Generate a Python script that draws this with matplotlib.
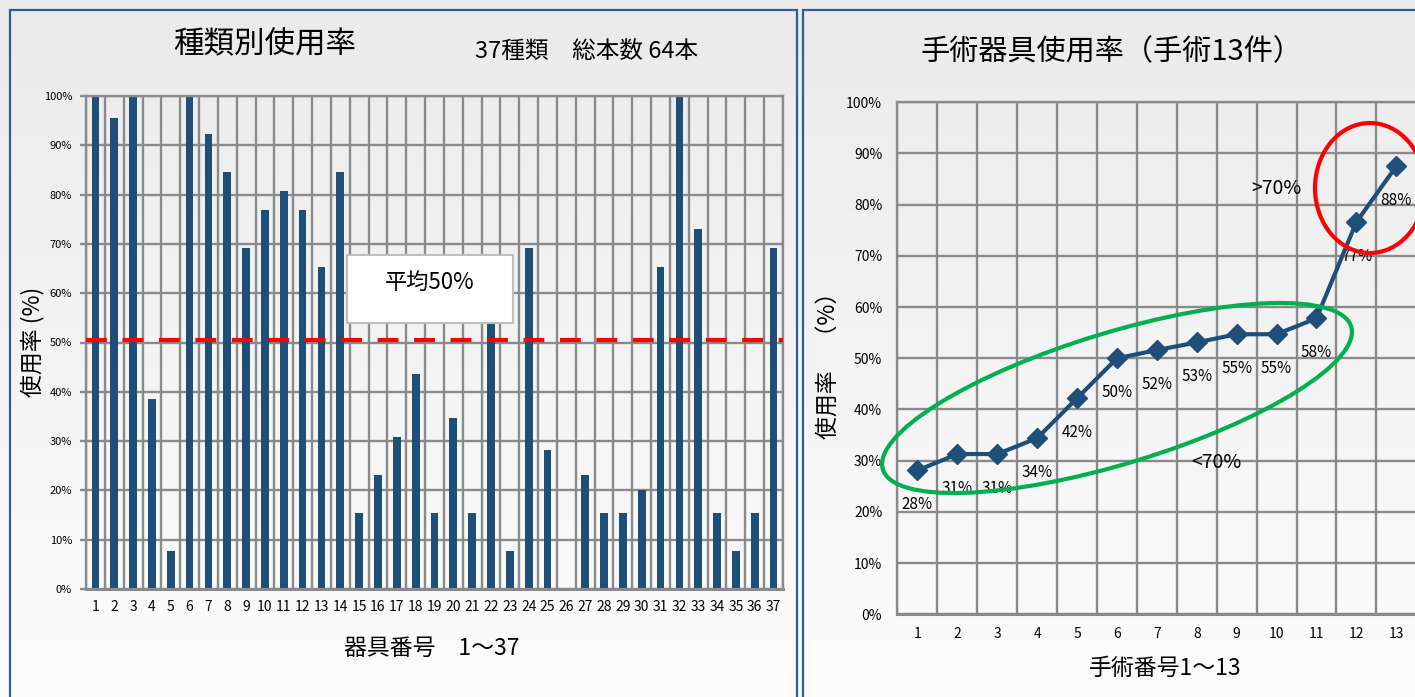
import matplotlib

matplotlib.use("Agg")
import matplotlib.pyplot as plt
import numpy as np
from matplotlib.patches import Ellipse, Rectangle
from matplotlib.transforms import IdentityTransform

plt.rcParams["font.family"] = ["Noto Sans CJK JP", "DejaVu Sans"]

W, H = 1415, 697

# left chart: usage rate per instrument type (37 types)
tool_numbers = list(range(1, 38))
tool_usage = [100, 95.5, 100, 38.5, 7.7, 100, 92.3, 84.6, 69.2, 76.9,
              80.8, 76.9, 65.4, 84.6, 15.4, 23.1, 30.8, 43.6, 15.4, 34.6,
              15.4, 61.5, 7.7, 69.2, 28.2, 0, 23.1, 15.4, 15.4, 20.0,
              65.4, 100, 73.0, 15.4, 7.7, 15.4, 69.2]
average_usage = 50.5

# right chart: usage rate per surgery (13 surgeries)
surgery_numbers = list(range(1, 14))
surgery_usage = [28.1, 31.3, 31.3, 34.4, 42.2, 50.0, 51.6, 53.1, 54.7, 54.7,
                 57.8, 76.6, 87.5]

BAR_COLOR = "#1f4e79"
GRID_COLOR = "#8a8a8a"
BORDER_COLOR = "#2e5f92"


def px(x, y):
    return x / W, 1 - y / H


def axes_rect(x0, y0, x1, y1):
    return [x0 / W, 1 - y1 / H, (x1 - x0) / W, (y1 - y0) / H]


def style_grid(ax):
    ax.set_facecolor("none")
    ax.grid(True, which="minor", axis="x", color=GRID_COLOR, lw=1.7)
    ax.grid(True, which="major", axis="y", color=GRID_COLOR, lw=1.7)
    ax.set_axisbelow(True)
    for side in ax.spines:
        ax.spines[side].set_color(GRID_COLOR)
        ax.spines[side].set_linewidth(1.7)
    ax.spines["bottom"].set_linewidth(2.2)


fig = plt.figure(figsize=(W / 100, H / 100), dpi=100)

# soft vertical gradient background
bg = fig.add_axes([0, 0, 1, 1], zorder=-10)
grad = np.linspace(0.92, 0.99, 256).reshape(-1, 1)
bg.imshow(np.dstack([grad, grad, grad]), aspect="auto", extent=[0, 1, 0, 1],
          origin="upper")
bg.set_axis_off()

# panel frames
fig.add_artist(Rectangle((9.5, -5), 787, H - 10 + 5, fill=False,
                         ec=BORDER_COLOR, lw=1.6, transform=IdentityTransform()))
fig.add_artist(Rectangle((803, -5), 700, H - 10 + 5, fill=False,
                         ec=BORDER_COLOR, lw=1.6, transform=IdentityTransform()))

# ---- left chart ----
ax1 = fig.add_axes(axes_rect(86, 96, 783, 589))
style_grid(ax1)
xpos = np.arange(len(tool_numbers))
ax1.bar(xpos, tool_usage, width=0.41, color=BAR_COLOR, zorder=2)
ax1.axhline(average_usage, color="#ff0000", lw=3, dashes=(5, 3.75), zorder=3)
ax1.set_xlim(-0.5, len(tool_numbers) - 0.5)
ax1.set_ylim(0, 100)
ax1.set_xticks(xpos)
ax1.set_xticklabels([str(n) for n in tool_numbers], fontsize=10)
ax1.set_xticks(np.arange(-0.5, len(tool_numbers)), minor=True)
ax1.tick_params(axis="x", which="both", length=0, pad=8)
ax1.set_yticks(np.arange(0, 101, 10))
ax1.set_yticklabels([f"{v}%" for v in range(0, 101, 10)], fontsize=8)
ax1.tick_params(axis="y", length=4, color=GRID_COLOR, width=1.7, pad=6)

ax1.add_patch(Rectangle((13.35, 54.0), 8.8, 13.7, fc="white", ec="#bfbfbf",
                        lw=1.5, zorder=5))
ax1.text(17.76, 62.1, "平均50%", ha="center", va="center", fontsize=16, zorder=6)

fig.text(*px(265, 45), "種類別使用率", ha="center", va="center", fontsize=22)
fig.text(*px(587, 52), "37種類　総本数 64本", ha="center", va="center",
         fontsize=17)
fig.text(*px(33, 342), "使用率 (%)", ha="center", va="center", rotation=90,
         fontsize=16.5)
fig.text(*px(432, 648), "器具番号　1〜37", ha="center", va="center",
         fontsize=16.5)

# ---- right chart ----
ax2 = fig.add_axes(axes_rect(897.5, 102.3, 1416.2, 614.3))
style_grid(ax2)
ax2.plot(surgery_numbers, surgery_usage, color=BAR_COLOR, lw=3, marker="D",
         ms=10, mec=BAR_COLOR, zorder=4, clip_on=False)
for n, v in zip(surgery_numbers, surgery_usage):
    ax2.annotate(f"{v:.0f}%", (n, v), xytext=(0, -34), textcoords="offset pixels",
                 ha="center", va="center", fontsize=11, zorder=3)
ax2.set_xlim(0.5, len(surgery_numbers) + 0.5)
ax2.set_ylim(0, 100)
ax2.set_xticks(surgery_numbers)
ax2.set_xticks(np.arange(0.5, len(surgery_numbers) + 1), minor=True)
ax2.tick_params(axis="x", which="both", length=0, pad=9, labelsize=10)
ax2.set_yticks(np.arange(0, 101, 10))
ax2.set_yticklabels([f"{v}%" for v in range(0, 101, 10)], fontsize=10)
ax2.tick_params(axis="y", length=0, pad=11)

ax2.text(8.49, 29.7, "<70%", ha="center", va="center", fontsize=14)
ax2.text(10.0, 83.1, ">70%", ha="center", va="center", fontsize=14)

ax2.add_patch(Ellipse((1117, H - 398), 489.6, 131.2, angle=16.95, fill=False,
                      ec="#00b050", lw=3, transform=IdentityTransform(),
                      clip_on=False, zorder=5))
ax2.add_patch(Ellipse((1370, H - 188), 110, 130, fill=False, ec="#ff0000",
                      lw=3, transform=IdentityTransform(), clip_on=False,
                      zorder=5))

fig.text(*px(1112, 52), "手術器具使用率（手術13件）", ha="center", va="center",
         fontsize=21)
fig.text(*px(828, 360), "使用率　（%）", ha="center", va="center", rotation=90,
         fontsize=16.5)
fig.text(*px(1165, 668), "手術番号1〜13", ha="center", va="center",
         fontsize=16.5)

fig.savefig("out.png", dpi=100)
